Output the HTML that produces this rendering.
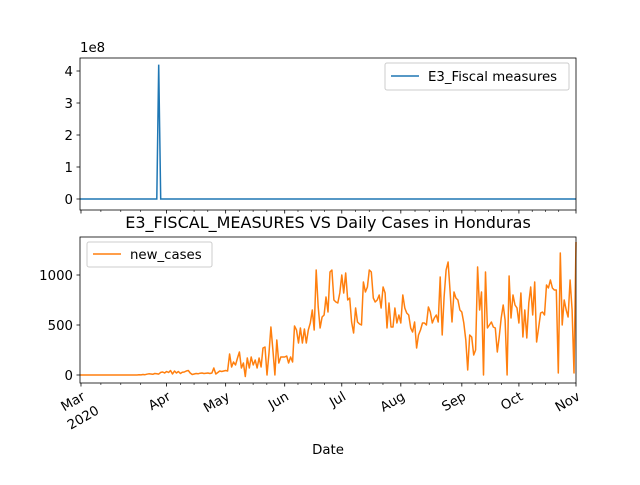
<!DOCTYPE html>
<html><head><meta charset="utf-8"><style>
body{margin:0;background:#fff;}
svg{font-family:"DejaVu Sans","Liberation Sans",sans-serif;}
</style></head><body>
<svg id="c" width="640" height="480" xmlns="http://www.w3.org/2000/svg"></svg>
<script>
const newCases = [0,0,0,0,0,0,0,0,0,0,0,0,0,0,0,0,0,0,0,0,0,0,0,0,0,0,0,0,
0,0,2,1,5,3,8,12,10,7,15,12,9,
26,30,20,35,25,45,10,40,20,35,15,28,30,40,45,20,5,10,15,12,18,20,
15,18,20,15,20,70,10,25,40,35,40,45,40,
210,80,130,100,170,230,70,120,-15,170,70,180,100,150,70,170,80,270,280,0,220,480,250,0,350,120,180,180,180,190,120,180,130,490,450,320,470,320,460,320,450,520,650,450,1050,680,470,580,600,
780,630,1030,1050,750,730,720,820,1000,820,1020,750,770,530,420,670,530,510,500,930,830,880,1050,1030,770,730,750,800,670,880,820,470,720,480,480,670,520,600,520,800,670,620,600,470,430,530,270,400,450,520,520,500,680,630,520,570,600,530,980,400,780,1050,
1130,850,530,830,770,750,650,630,520,350,50,400,380,200,250,1080,650,830,0,1030,470,500,530,480,470,230,380,570,700,550,0,990,570,800,700,670,520,820,380,650,370,720,880,600,930,330,470,620,630,600,900,870,950,870,850,850,20,1220,500,750,650,580,950,650,20,1330];
const fiscalIdx = [0, 39, 40, 41, newCases.length-1];
const fiscalVal = [0, 0, 4.2e8, 0, 0];
const tickIdx = [0.5, 44, 74, 104, 133, 163, 194, 223, 252];
const tickLabels = ['Mar', 'Apr', 'May', 'Jun', 'Jul', 'Aug', 'Sep', 'Oct', 'Nov'];
const topTicks = [0,1,2,3,4];
const botTicks = [0,500,1000];

const svg = document.getElementById('c');
const NS='http://www.w3.org/2000/svg';
function mk(t,a,p){const e=document.createElementNS(NS,t);for(const k in a)e.setAttribute(k,a[k]);(p||svg).appendChild(e);return e;}
const N=newCases.length;
const X0=80,X1=576;
const FS=13.3;
const xs=i=>X0+i*(X1-X0)/(N-1);
const yTop=v=>199-v/1e8*32;
const yBot=v=>375-v*0.1;

// top axes
let g=mk('g',{});


let pts=fiscalIdx.map((d,i)=>xs(d).toFixed(1)+','+yTop(fiscalVal[i]).toFixed(1)).join(' ');
let l=mk('polyline',{points:pts,fill:'none',stroke:'#1f77b4','stroke-width':1.5},g);


mk('rect',{x:X0,y:58,width:X1-X0,height:152,fill:'none',stroke:'#000','stroke-width':0.8},g);
topTicks.forEach(t=>{const y=yTop(t*1e8);mk('line',{x1:X0-3.5,x2:X0,y1:y,y2:y,stroke:'#000','stroke-width':0.8},g);
const tx=mk('text',{x:X0-7,y:y+5,'font-size':FS,'text-anchor':'end'},g);tx.textContent=t;

});
let off=mk('text',{x:X0,y:52,'font-size':FS},g);off.textContent='1e8';


// legend top
let lg=mk('g',{},g);


mk('rect',{x:385,y:63,width:184,height:27,rx:2,fill:'#fff',stroke:'#ccc'},lg);
mk('line',{x1:391,x2:419,y1:76,y2:76,stroke:'#1f77b4','stroke-width':1.5},lg);
let lt=mk('text',{x:428,y:81,'font-size':FS},lg);lt.textContent='E3_Fiscal measures';

// title
let ti=mk('text',{x:328,y:228,'font-size':16,'text-anchor':'middle'});ti.textContent='E3_FISCAL_MEASURES VS Daily Cases in Honduras';



// bottom axes
let b=mk('g',{});


pts=newCases.map((v,i)=>xs(i).toFixed(1)+','+yBot(v).toFixed(1)).join(' ');
l=mk('polyline',{points:pts,fill:'none',stroke:'#ff7f0e','stroke-width':1.5,'stroke-linejoin':'round'},b);


mk('rect',{x:X0,y:237,width:X1-X0,height:146,fill:'none',stroke:'#000','stroke-width':0.8},b);
botTicks.forEach(t=>{const y=yBot(t);mk('line',{x1:X0-3.5,x2:X0,y1:y,y2:y,stroke:'#000','stroke-width':0.8},b);
const tx=mk('text',{x:X0-7,y:y+5,'font-size':FS,'text-anchor':'end'},b);tx.textContent=t;

});
// minor x ticks
for(let i=0;i<tickIdx.length-1;i++){const a=tickIdx[i],c=tickIdx[i+1];for(let k=1;k<=3;k++){const d=a+(c-a)*k/4.3;[210,383].forEach(yb=>mk('line',{x1:xs(d),x2:xs(d),y1:yb,y2:yb+2,stroke:'#000','stroke-width':0.6}));}}
tickIdx.forEach((d,i)=>{const x=xs(d);
[210,383].forEach(yb=>mk('line',{x1:x,x2:x,y1:yb,y2:yb+3.5,stroke:'#000','stroke-width':0.8}));
const tx=mk('text',{x:0,y:0,'font-size':FS,'text-anchor':'end',transform:`translate(${x+5},${399}) rotate(-30)`},b);tx.textContent=tickLabels[i];


if(i===0){const t2=mk('text',{x:0,y:0,'font-size':FS,'text-anchor':'end',transform:`translate(${x+19},${413}) rotate(-30)`},b);t2.textContent='2020';

}
});
let xl=mk('text',{x:328,y:454,'font-size':FS,'text-anchor':'middle'});xl.textContent='Date';


// legend bottom
let lb=mk('g',{},b);


mk('rect',{x:87,y:242,width:125,height:25,rx:2,fill:'#fff',stroke:'#ccc'},lb);
mk('line',{x1:93,x2:121,y1:254,y2:254,stroke:'#ff7f0e','stroke-width':1.5},lb);
let lbt=mk('text',{x:130,y:259,'font-size':FS},lb);lbt.textContent='new_cases';
</script>
</body></html>
